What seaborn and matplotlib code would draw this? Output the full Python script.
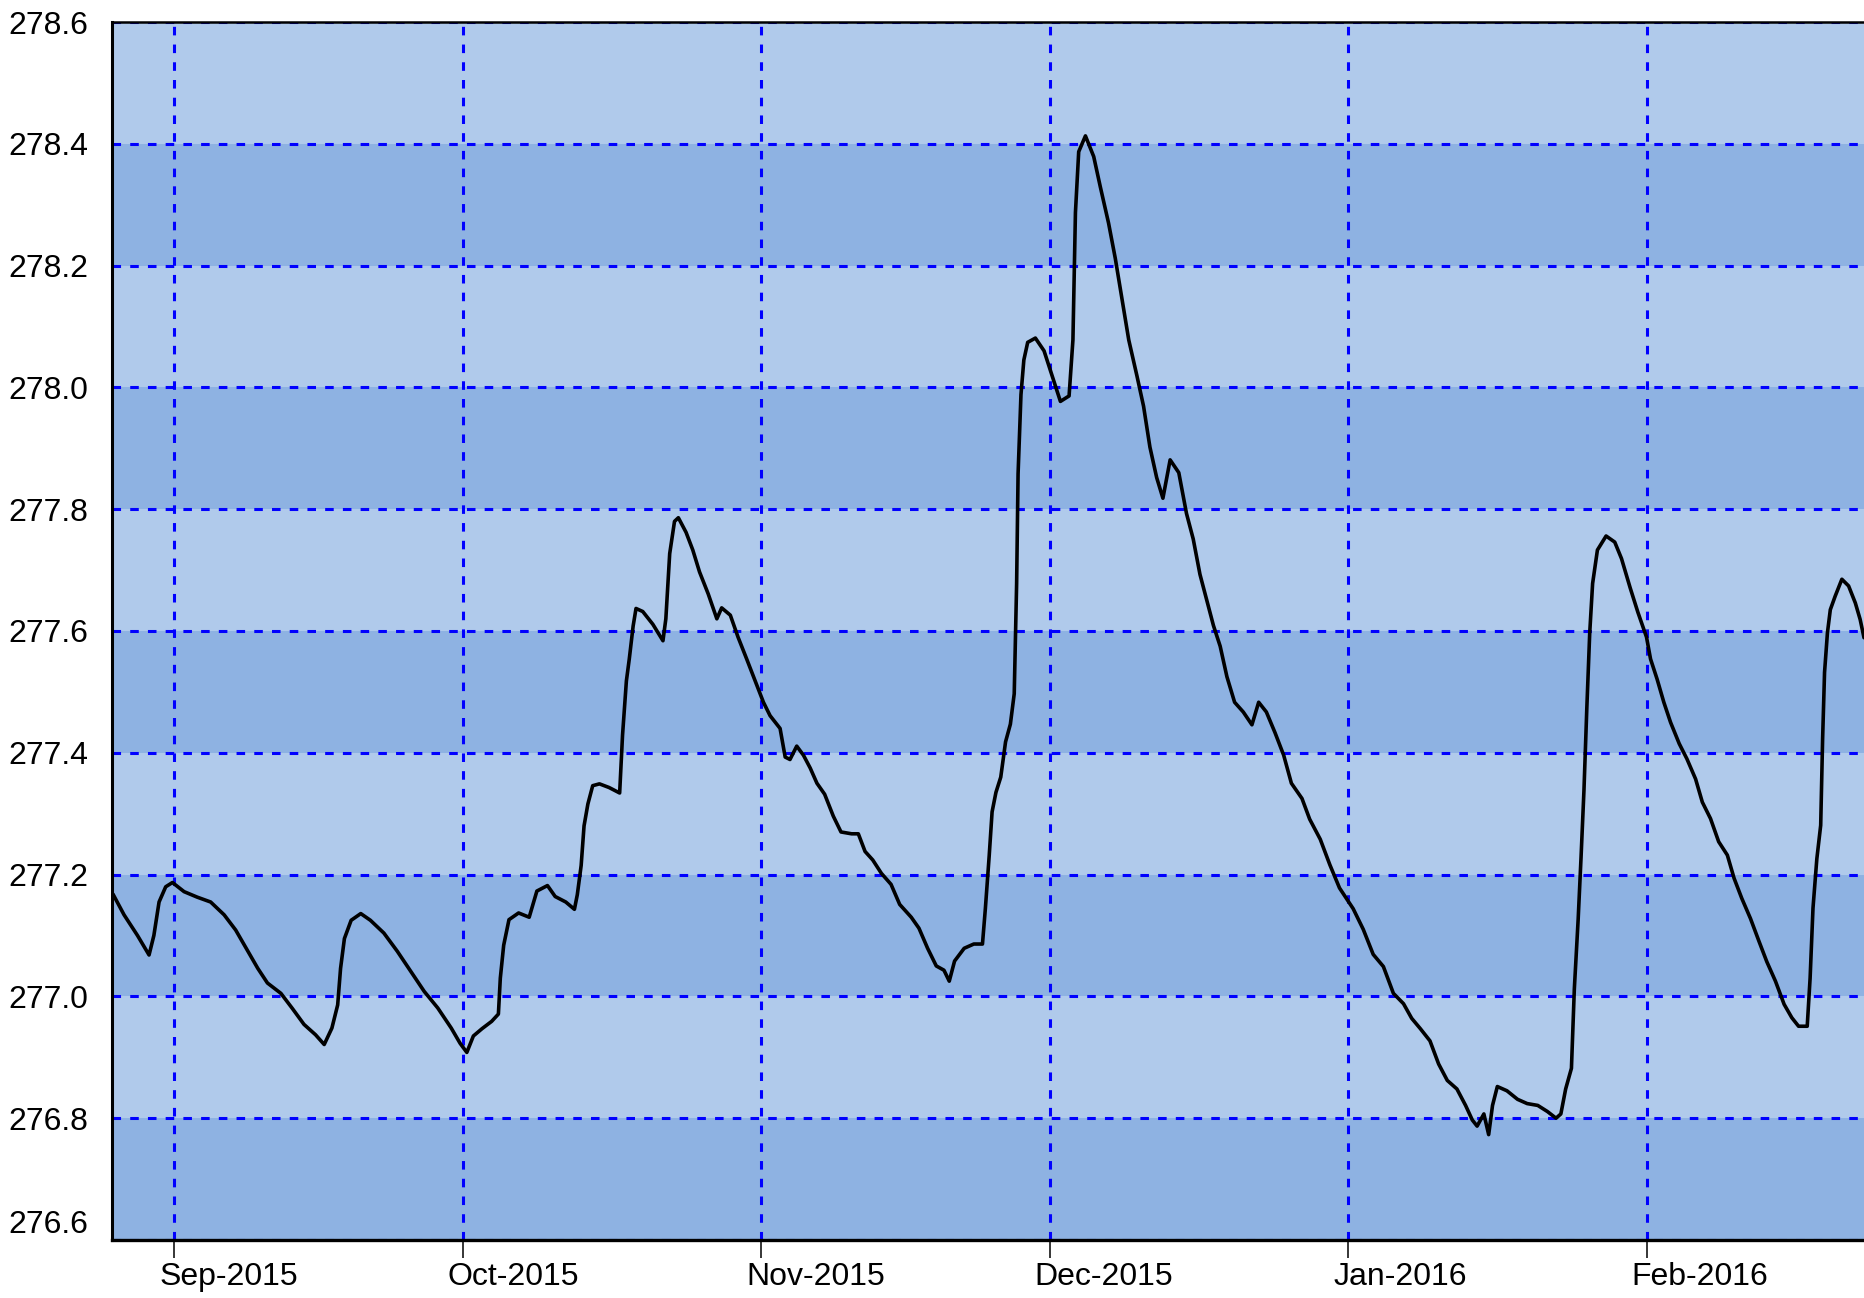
import numpy as np
import pandas as pd
import matplotlib
matplotlib.use('Agg')
import matplotlib.pyplot as plt
import matplotlib.transforms as mtransforms
from matplotlib import font_manager
import seaborn as sns

# ---- data (days since 2015-09-01, value) ----
days_since_sep1 = [
    -6.35, -5.2, -3.8, -2.6, -2.1, -1.56, -0.87, -0.17, 1.04, 2.4, 3.8, 5.2, 6.4, 7.6, 8.7, 9.7,
    11.1, 12.3, 13.5, 14.7, 15.6, 16.4, 17.0, 17.3, 17.7, 18.4, 19.4, 20.4, 21.8, 23.2, 24.6,
    26.0, 27.4, 28.8,
    29.72, 30.42, 31.1, 32.0, 33.0, 33.7, 33.9, 34.25, 34.8, 35.8, 36.9, 37.7, 38.8, 39.6, 40.7,
    41.6, 41.9, 42.3, 42.6, 43.0, 43.5, 44.2, 45.2, 46.3, 46.6, 47.0, 47.3, 47.7, 48.0, 48.7,
    49.75, 50.8, 51.1, 51.5, 52.0, 52.4, 53.2, 53.9, 54.6, 55.5, 56.4, 56.9, 57.8, 58.6, 59.5,
    60.5,
    61.24, 61.93, 62.97, 63.5, 64.0, 64.7, 65.4, 66.1, 66.8, 67.6, 68.5, 69.3, 70.4, 71.1, 71.8,
    72.6, 73.5, 74.5, 75.4, 76.6, 77.4, 78.3, 79.2, 80.0, 80.55, 81.1, 82.1, 83.1, 84.0, 84.3,
    84.7, 85.0, 85.4, 85.9, 86.4, 86.9, 87.3, 87.55, 87.7, 88.0, 88.3, 88.7, 89.5, 90.4,
    91.24, 92.1, 93.0, 93.4, 93.66, 94.0, 94.7, 95.56, 96.25, 97.1, 97.8, 98.5, 99.2, 100.05,
    100.74, 101.4, 102.1, 102.75, 103.5, 104.4, 105.2, 105.9, 106.6, 107.3, 108.0, 108.7, 109.4,
    110.2, 111.1, 112.0, 112.7, 113.5, 114.4, 115.3, 116.1, 117.2, 118.0, 119.1, 120.1, 121.1,
    122.52, 123.57, 124.6, 125.66, 126.7, 127.75, 128.6, 129.5, 130.5, 131.4, 132.3, 133.3,
    134.2, 134.9, 135.4, 136.1, 136.6, 137.0, 137.5, 138.5, 139.6, 140.6, 141.7, 142.7, 143.6,
    144.1, 144.6, 145.2, 145.5, 145.9, 146.2, 146.5, 146.8, 147.1, 147.4, 147.9, 148.8, 149.7,
    150.4, 151.3, 152.1, 153.0,
    153.42, 154.1, 154.8, 155.5, 156.4, 157.2, 158.1, 158.8, 159.65, 160.5, 161.4, 162.1, 162.9,
    163.8, 164.7, 165.5, 166.4, 167.3, 168.1, 168.8, 169.7, 170.0, 170.3, 170.7, 171.1, 171.3,
    171.5, 171.8, 172.1, 172.6, 173.3, 174.0, 174.7, 175.2, 175.6,
]
level = [
    277.168, 277.134, 277.100, 277.068, 277.100, 277.155, 277.180, 277.187, 277.172, 277.163,
    277.155, 277.134, 277.109, 277.076, 277.046, 277.022, 277.005, 276.980, 276.954, 276.937,
    276.921, 276.948, 276.986, 277.046, 277.095, 277.125, 277.136, 277.125, 277.104, 277.074,
    277.041, 277.008, 276.981, 276.948,
    276.923, 276.908, 276.935, 276.947, 276.959, 276.971, 277.030, 277.084, 277.126, 277.137,
    277.130, 277.173, 277.182, 277.164, 277.155, 277.143, 277.167, 277.215, 277.280, 277.316,
    277.346, 277.349, 277.343, 277.334, 277.429, 277.518, 277.554, 277.608, 277.637, 277.632,
    277.611, 277.584, 277.620, 277.727, 277.780, 277.786, 277.762, 277.733, 277.697, 277.661,
    277.620, 277.638, 277.626, 277.590, 277.554, 277.513,
    277.483, 277.461, 277.440, 277.393, 277.389, 277.411, 277.396, 277.375, 277.350, 277.332,
    277.296, 277.270, 277.267, 277.267, 277.238, 277.224, 277.202, 277.184, 277.151, 277.130,
    277.112, 277.079, 277.050, 277.043, 277.025, 277.058, 277.079, 277.086, 277.086, 277.144,
    277.231, 277.303, 277.335, 277.360, 277.418, 277.447, 277.497, 277.678, 277.858, 277.988,
    278.045, 278.074, 278.081, 278.060,
    278.019, 277.977, 277.986, 278.078, 278.287, 278.387, 278.413, 278.379, 278.329, 278.270,
    278.212, 278.145, 278.078, 278.019, 277.969, 277.902, 277.852, 277.818, 277.881, 277.860,
    277.793, 277.751, 277.693, 277.651, 277.609, 277.575, 277.525, 277.483, 277.467, 277.446,
    277.483, 277.467, 277.433, 277.396, 277.350, 277.325, 277.291, 277.258, 277.216, 277.178,
    277.144, 277.110, 277.069, 277.049, 277.005, 276.988, 276.964, 276.947, 276.927, 276.889,
    276.862, 276.848, 276.821, 276.797, 276.787, 276.807, 276.773, 276.821, 276.852, 276.845,
    276.831, 276.824, 276.821, 276.811, 276.800, 276.807, 276.848, 276.882, 277.012, 277.127,
    277.229, 277.338, 277.474, 277.597, 277.678, 277.733, 277.756, 277.746, 277.719, 277.671,
    277.631, 277.590,
    277.554, 277.521, 277.483, 277.450, 277.415, 277.390, 277.357, 277.319, 277.292, 277.254,
    277.232, 277.194, 277.161, 277.128, 277.090, 277.057, 277.025, 276.987, 276.965, 276.951,
    276.951, 277.030, 277.145, 277.226, 277.281, 277.423, 277.532, 277.597, 277.635, 277.657,
    277.685, 277.674, 277.646, 277.619, 277.589,
]
y_ticks = [276.6, 276.8, 277.0, 277.2, 277.4, 277.6, 277.8, 278.0, 278.2, 278.4, 278.6]
x_tick_dates = ['2015-09-01', '2015-10-01', '2015-11-01', '2015-12-01', '2016-01-01', '2016-02-01']
x_tick_labels = ['Sep-2015', 'Oct-2015', 'Nov-2015', 'Dec-2015', 'Jan-2016', 'Feb-2016']

# ---- styling ----
sns.set_theme(style='white')
installed = {f.name for f in font_manager.fontManager.ttflist}
if 'Liberation Sans Narrow' in installed:
    plt.rcParams['font.family'] = ['Liberation Sans Narrow', 'Liberation Sans', 'DejaVu Sans']
    label_size = 26
else:
    plt.rcParams['font.family'] = ['Liberation Sans', 'DejaVu Sans']
    label_size = 23

base = pd.Timestamp('2015-09-01')
df = pd.DataFrame({
    'date': base + pd.to_timedelta(days_since_sep1, unit='D'),
    'level': level,
})

W, H = 1864, 1298
fig = plt.figure(figsize=(W / 100, H / 100), dpi=100)
left, right, top, bottom = 112, 1864, 22, 1240
ax = fig.add_axes([left / W, 1 - bottom / H, (right - left) / W, (bottom - top) / H])

light = '#B0CAEB'
dark = '#8EB2E2'
for i in range(len(y_ticks) - 1):
    ax.axhspan(y_ticks[i], y_ticks[i + 1], color=dark if i % 2 == 0 else light, lw=0, zorder=0)

ax.set_axisbelow(True)
ax.grid(True, color='#0000FF', lw=2.2, linestyle=(0, (2.8, 3.0)), zorder=0.5)

sns.lineplot(data=df, x='date', y='level', color='black', lw=2.6, estimator=None,
             sort=False, ax=ax, zorder=3)

ax.set_ylim(y_ticks[0], y_ticks[-1])
ax.set_xlim(base + pd.Timedelta(days=-6.45), base + pd.Timedelta(days=175.6))
ax.set_yticks(y_ticks)
ax.set_yticklabels([f'{v:.1f}' for v in y_ticks])
ax.set_xticks(pd.to_datetime(x_tick_dates))
ax.set_xticklabels(x_tick_labels)
ax.set_xlabel('')
ax.set_ylabel('')

ax.tick_params(axis='x', bottom=True, length=13, width=1.1, color='black', pad=3,
               labelsize=label_size, labelcolor='black', direction='out')
ax.tick_params(axis='y', left=False, length=0, pad=17, labelsize=label_size, labelcolor='black')

offset = mtransforms.ScaledTranslation(-15 / 100, 0, fig.dpi_scale_trans)
for lbl in ax.get_xticklabels():
    lbl.set_horizontalalignment('left')
    lbl.set_transform(lbl.get_transform() + offset)
ax.get_yticklabels()[0].set_verticalalignment('bottom')

for side in ['left', 'bottom', 'top']:
    ax.spines[side].set_visible(True)
    ax.spines[side].set_color('black')
ax.spines['left'].set_linewidth(2.2)
ax.spines['bottom'].set_linewidth(2.4)
ax.spines['top'].set_linewidth(1.8)
ax.spines['right'].set_visible(False)

fig.savefig('out.png', dpi=100)
